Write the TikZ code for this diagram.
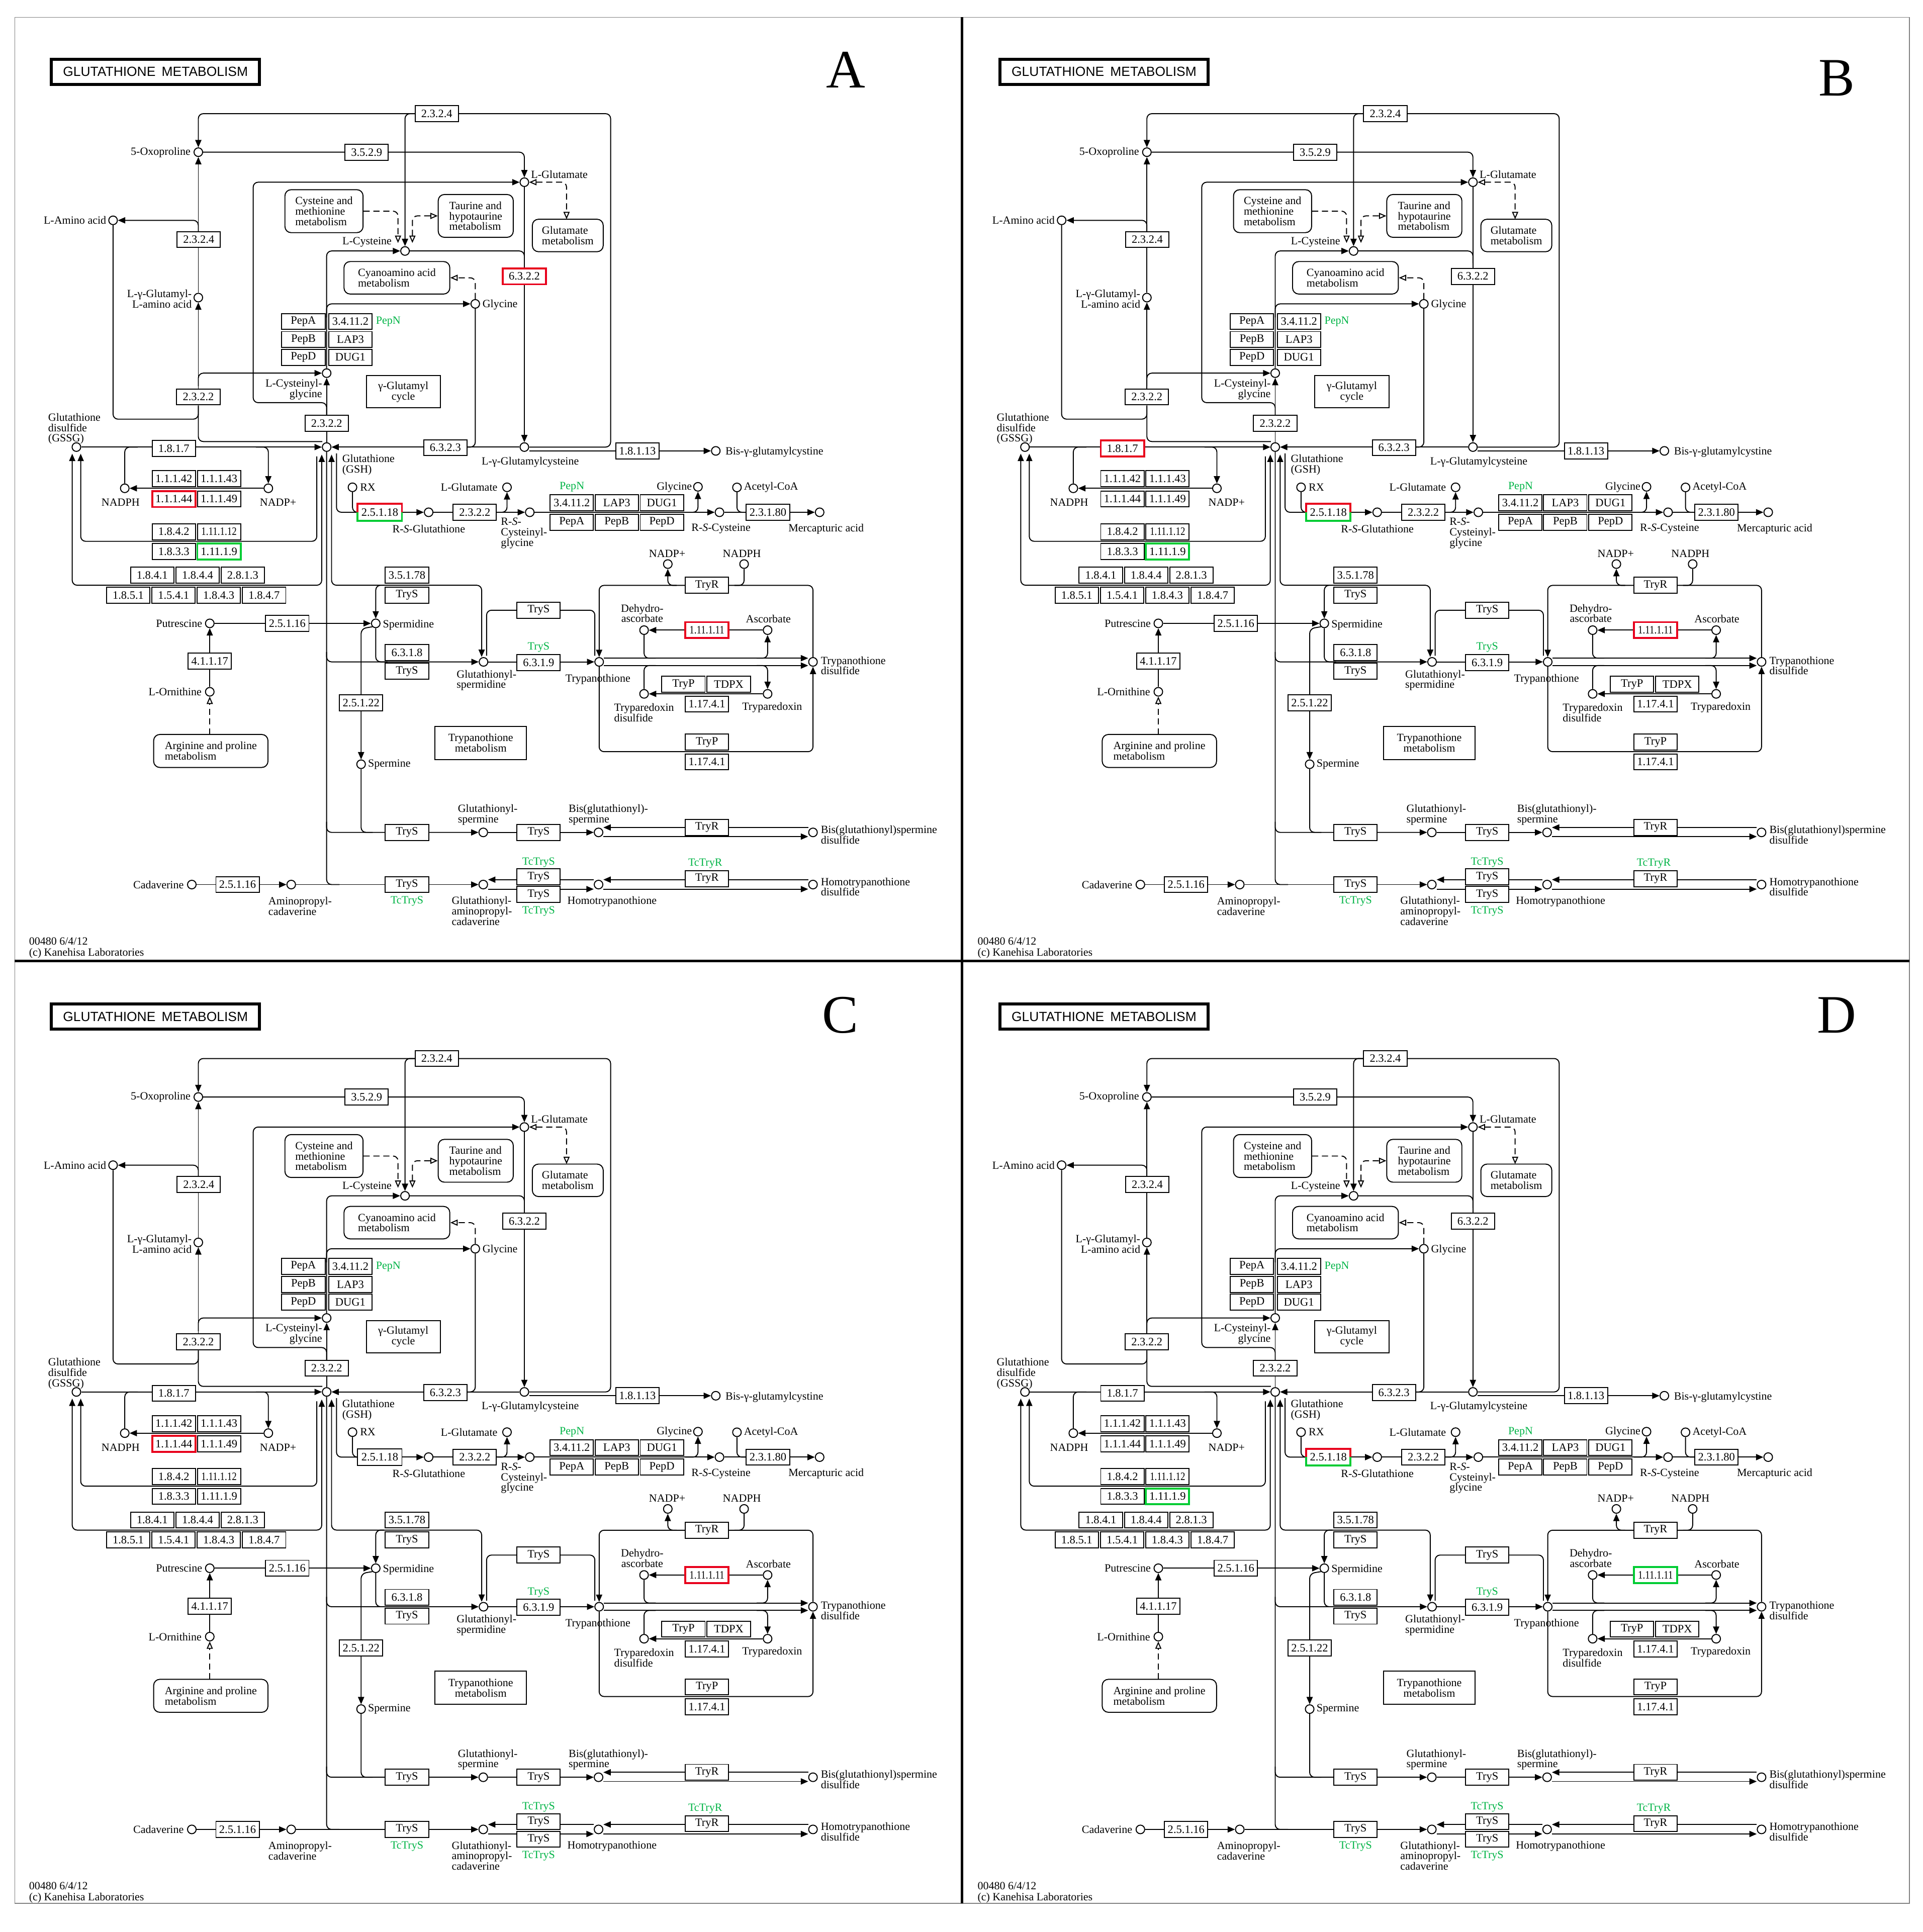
\documentclass[tikz,border=0pt]{standalone}
\usepackage{fontspec}
\usepackage{graphicx}
\setmainfont{Liberation Serif}
\newfontfamily\titlefont{Liberation Sans}
\usetikzlibrary{arrows.meta}
\pgfdeclarelayer{back}
\pgfdeclarelayer{bg}
\pgfsetlayers{back,bg,main}
\definecolor{kred}{HTML}{E8001C}
\definecolor{kgreen}{HTML}{00CC33}
\definecolor{ktxtgreen}{HTML}{00B446}
\newcommand\sq[1]{\scalebox{0.84}[1]{#1}}
\tikzset{
  cpd/.style={circle, draw, line width=0.8pt, fill=white, minimum size=7pt, inner sep=0pt},
  ec/.style={draw, line width=0.8pt, fill=white, minimum width=35.2pt, minimum height=13pt, inner sep=0pt, font=\fontsize{9.2}{9}\selectfont},
  ecR/.style={ec, draw=kred, line width=1.6pt},
  ecG/.style={ec, draw=kgreen, line width=1.6pt},
  lbl/.style={inner sep=0pt, font=\fontsize{9}{8.5}\selectfont},
  glbl/.style={lbl, text=ktxtgreen},
  mapbox/.style={draw, line width=0.8pt, rounded corners=5pt, fill=white},
  rectbox/.style={draw, line width=0.8pt, fill=white},
  ln/.style={draw, line width=0.8pt, rounded corners=4pt},
  dln/.style={ln, dash pattern=on 5pt off 3pt},
  arr/.style={-{Triangle[length=6pt,width=5pt]}},
  arrb/.style={{Triangle[length=6pt,width=5pt]}-{Triangle[length=6pt,width=5pt]}},
  oarr/.style={-{Triangle[open,length=6pt,width=5pt]}},
  oarrb/.style={{Triangle[open,length=6pt,width=5pt]}-{Triangle[open,length=6pt,width=5pt]}},
  halfR/.style={draw=kred, line width=1.6pt},
  halfG/.style={draw=kgreen, line width=1.6pt},
  halfK/.style={draw=black, line width=0.8pt},
}
\newcommand\kpanel[6]{%
\begin{scope}[shift={(#2,#3)}, name prefix=#1-]
\node[draw, line width=2.4pt, minimum width=169pt, minimum height=20.5pt, inner sep=0pt, font=\titlefont\fontsize{10.8}{11}\selectfont] (title) at (126.35,58.35) {GLUTATHIONE\hspace{5pt}METABOLISM};
\node[inner sep=0pt, anchor=base, font=\fontsize{44}{44}\selectfont] (letter) at (#5,#6) {#4};
\node[lbl, anchor=base west] (foot1) at (23.4,768) {00480 6/4/12};
\node[lbl, anchor=base west] (foot2) at (23.4,777) {(c) Kanehisa Laboratories};
% ---------- compounds
\node[cpd] (oxo) at (161.2,123.7) {};
\node[cpd] (laa) at (91.9,179.1) {};
\node[cpd] (lgla) at (161.2,241.9) {};
\node[cpd] (glu) at (426.2,148.1) {};
\node[cpd] (cys) at (329.2,204) {};
\node[cpd] (gly) at (386.3,247) {};
\node[cpd] (cysgly) at (265.5,303.3) {};
\node[cpd] (gsh) at (265.5,363.4) {};
\node[cpd] (gssg) at (62.1,363.4) {};
\node[cpd] (lgc) at (426.2,363.4) {};
\node[cpd] (bisgc) at (581.8,366.5) {};
\node[cpd] (nadphL) at (101.4,396.9) {};
\node[cpd] (nadpL) at (218.1,396.9) {};
\node[cpd] (rx) at (286.5,396.1) {};
\node[cpd] (rsg) at (348.4,416.4) {};
\node[cpd] (glu2) at (412.1,396.1) {};
\node[cpd] (rscg) at (430.6,416.4) {};
\node[cpd] (gly2) at (567.3,395.7) {};
\node[cpd] (acoa) at (599,396.2) {};
\node[cpd] (rsc) at (584.8,416.4) {};
\node[cpd] (merc) at (666.2,416.4) {};
\node[cpd] (nadpR) at (542.8,458.5) {};
\node[cpd] (nadphR) at (604.8,458.5) {};
\node[cpd] (put) at (170.5,506.7) {};
\node[cpd] (spd) at (305.4,506.7) {};
\node[cpd] (dha) at (523.5,512.2) {};
\node[cpd] (asc) at (623.9,512.2) {};
\node[cpd] (gspd) at (393,538) {};
\node[cpd] (tryp) at (487,538) {};
\node[cpd] (tsd) at (660.8,538) {};
\node[cpd] (orn) at (170.5,562.3) {};
\node[cpd] (txnd) at (523.5,564) {};
\node[cpd] (txn) at (623.9,564) {};
\node[cpd] (spm) at (293.5,621.2) {};
\node[cpd] (gspm) at (392.8,676.6) {};
\node[cpd] (bgspm) at (486.5,676.6) {};
\node[cpd] (bgspmd) at (660.8,676.6) {};
\node[cpd] (cad) at (155.9,719) {};
\node[cpd] (apc) at (236.7,719) {};
\node[cpd] (gapc) at (392.8,719) {};
\node[cpd] (htryp) at (486.5,719) {};
\node[cpd] (htsd) at (660.8,719) {};
% ---------- compound labels
\node[lbl, anchor=east] (t-oxo) at (155,123.7) {5-Oxoproline};
\node[lbl, anchor=east] (t-laa) at (86.5,179.1) {L-Amino acid};
\node[lbl, anchor=east, align=right] (t-lgla) at (156,243) {L-γ-Glutamyl-\\L-amino acid};
\node[lbl, anchor=west] (t-glu) at (431.5,141.6) {L-Glutamate};
\node[lbl, anchor=east] (t-cys) at (318.5,196.6) {L-Cysteine};
\node[lbl, anchor=west] (t-gly) at (392,247.8) {Glycine};
\node[lbl, anchor=east, align=right] (t-cysgly) at (262,316.5) {L-Cysteinyl-\\glycine};
\node[lbl, anchor=west, align=left] (t-gsh) at (278,378) {Glutathione\\(GSH)};
\node[lbl, anchor=west, align=left] (t-gssg) at (39,348.5) {Glutathione\\disulfide\\(GSSG)};
\node[lbl] (t-lgc) at (431,375.5) {L-γ-Glutamylcysteine};
\node[lbl, anchor=west] (t-bisgc) at (589.5,367.5) {Bis-γ-glutamylcystine};
\node[lbl] (t-nadphL) at (98,408.5) {NADPH};
\node[lbl] (t-nadpL) at (226,408.5) {NADP+};
\node[lbl, anchor=west] (t-rx) at (292.5,396.1) {RX};
\node[lbl] (t-rsg) at (348.5,429.8) {R-\textit{S}-Glutathione};
\node[lbl, anchor=east] (t-glu2) at (404.5,396.1) {L-Glutamate};
\node[lbl, anchor=west, align=left] (t-rscg) at (407,433.5) {R-\textit{S}-\\Cysteinyl-\\glycine};
\node[lbl, anchor=east] (t-gly2) at (562.5,395.9) {Glycine};
\node[lbl, anchor=west] (t-acoa) at (604.5,396.2) {Acetyl-CoA};
\node[lbl] (t-rsc) at (586,429.8) {R-\textit{S}-Cysteine};
\node[lbl] (t-merc) at (671.5,429.8) {Mercapturic acid};
\node[lbl] (t-nadpR) at (542.3,450) {NADP+};
\node[lbl] (t-nadphR) at (603,450) {NADPH};
\node[lbl, anchor=east] (t-put) at (164.5,506.7) {Putrescine};
\node[lbl, anchor=west] (t-spd) at (311,508) {Spermidine};
\node[lbl, align=center] (t-dha) at (522,498.5) {Dehydro-\\ascorbate};
\node[lbl] (t-asc) at (624.5,503.2) {Ascorbate};
\node[lbl, anchor=west, align=left] (t-gspd) at (371,553) {Glutathionyl-\\spermidine};
\node[lbl] (t-tryp) at (486,552) {Trypanothione};
\node[lbl, anchor=west, align=left] (t-tsd) at (667,541) {Trypanothione\\disulfide};
\node[lbl, anchor=east] (t-orn) at (164,562.3) {L-Ornithine};
\node[lbl, anchor=west, align=left] (t-txnd) at (499,579.3) {Tryparedoxin\\disulfide};
\node[lbl] (t-txn) at (627.6,575) {Tryparedoxin};
\node[lbl, anchor=west] (t-spm) at (299,621.2) {Spermine};
\node[lbl, anchor=west, align=left] (t-gspm) at (372,662.3) {Glutathionyl-\\spermine};
\node[lbl, anchor=west, align=left] (t-bgspm) at (462,662.3) {Bis(glutathionyl)-\\spermine};
\node[lbl, anchor=west, align=left] (t-bgspmd) at (667,678.5) {Bis(glutathionyl)spermine\\disulfide};
\node[lbl, anchor=east] (t-cad) at (149.5,719) {Cadaverine};
\node[lbl, anchor=west, align=left] (t-apc) at (218,736.5) {Aminopropyl-\\cadaverine};
\node[lbl, anchor=west, align=left] (t-gapc) at (367,740.4) {Glutathionyl-\\aminopropyl-\\cadaverine};
\node[lbl, anchor=west] (t-htryp) at (461,732.7) {Homotrypanothione};
\node[lbl, anchor=west, align=left] (t-htsd) at (667,720.8) {Homotrypanothione\\disulfide};
% ---------- map boxes
\node[mapbox, lbl, align=left, minimum width=63.5pt, minimum height=34.9pt] (mcys) at (263.35,171.65) {Cysteine and\\methionine\\metabolism};
\node[mapbox, lbl, align=left, minimum width=61pt, minimum height=34.8pt] (mtau) at (386.7,175.5) {Taurine and\\hypotaurine\\metabolism};
\node[mapbox, lbl, align=left, minimum width=57.6pt, minimum height=26.4pt] (mglu) at (461.5,191.4) {Glutamate\\metabolism};
\node[mapbox, lbl, align=left, minimum width=86pt, minimum height=26.4pt] (mcya) at (322.6,225.8) {Cyanoamino acid\\metabolism};
\node[mapbox, lbl, align=left, minimum width=92.9pt, minimum height=26.8pt] (marg) at (171.35,610.4) {Arginine and proline\\metabolism};
\node[rectbox, lbl, align=center, minimum width=60.2pt, minimum height=26.2pt] (gcyc) at (327.8,318.5) {γ-Glutamyl\\cycle};
\node[rectbox, lbl, align=center, minimum width=74.3pt, minimum height=26.9pt] (tmeta) at (390.75,603.85) {Trypanothione\\metabolism};
% ---------- enzymes
\node[ec] (e2324a) at (355,92.4) {2.3.2.4};
\node[ec] (e3529) at (298,123.7) {3.5.2.9};
\node[ec] (e2324b) at (161.5,194.7) {2.3.2.4};
\node[h6322] (e6322) at (426.2,224.6) {6.3.2.2};
\node[ec] (pepA1) at (246.6,261.3) {PepA};
\node[ec] (ap1) at (284.8,261.3) {3.4.11.2};
\node[glbl, anchor=west] (pepN1) at (305.4,261.5) {PepN};
\node[ec] (pepB1) at (246.6,276) {PepB};
\node[ec] (lap1) at (284.8,276) {LAP3};
\node[ec] (pepD1) at (246.6,290.4) {PepD};
\node[ec] (dug1) at (284.8,290.4) {DUG1};
\node[ec] (e2322a) at (161.2,322.6) {2.3.2.2};
\node[ec] (e2322b) at (265.5,344.1) {2.3.2.2};
\node[ec] (e6323) at (362,363.9) {6.3.2.3};
\node[ec] (e18113) at (518.1,366.5) {1.8.1.13};
\node[h1817] (e1817) at (141.3,364.5) {1.8.1.7};
\node[ec] (e11142) at (141.3,389.1) {1.1.1.42};
\node[ec] (e11143) at (178,389.1) {1.1.1.43};
\node[h11144] (e11144) at (141.3,405.6) {1.1.1.44};
\node[ec] (e11149) at (178,405.6) {1.1.1.49};
\node[ec] (e1842) at (141.3,432.2) {1.8.4.2};
\node[ec] (e111112) at (178,432.2) {\sq{1.11.1.12}};
\node[ec] (e1833) at (141.3,448.3) {1.8.3.3};
\node[h11119] (e11119) at (178,448.3) {1.11.1.9};
\node[ec] (e1841) at (123.7,467.5) {1.8.4.1};
\node[ec] (e1844) at (160.6,467.5) {1.8.4.4};
\node[ec] (e2813) at (197.3,467.5) {2.8.1.3};
\node[ec] (e1851) at (104.2,483.8) {1.8.5.1};
\node[ec] (e1541) at (141.1,483.8) {1.5.4.1};
\node[ec] (e1843) at (177.8,483.8) {1.8.4.3};
\node[ec] (e1847) at (214.7,483.8) {1.8.4.7};
\node[ec, draw=none] (e25118) at (308.7,416.4) {2.5.1.18};
\draw[h25top] (e25118.west) |- (e25118.north) -| (e25118.east);
\draw[h25bot] (e25118.west) |- (e25118.south) -| (e25118.east);
\node[ec] (e2322c) at (385.9,416.4) {2.3.2.2};
\node[ec] (ap2) at (464.75,408.65) {3.4.11.2};
\node[ec] (lap2) at (501.25,408.65) {LAP3};
\node[ec] (dug2) at (538,408.65) {DUG1};
\node[ec] (pepA2) at (464.75,424.55) {PepA};
\node[ec] (pepB2) at (501.25,424.55) {PepB};
\node[ec] (pepD2) at (538,424.55) {PepD};
\node[glbl] (pepN2) at (464.9,396) {PepN};
\node[ec] (e23180) at (624.2,416.4) {2.3.1.80};
\node[ec] (e35178) at (330.8,467.5) {3.5.1.78};
\node[ec] (tryS1) at (330.8,483.8) {TryS};
\node[ec] (e25116a) at (233.5,506.7) {2.5.1.16};
\node[ec] (e41117) at (170.5,537.5) {4.1.1.17};
\node[ec] (e6318) at (330.8,530.4) {6.3.1.8};
\node[ec] (tryS2) at (330.8,545.6) {TryS};
\node[ec] (tryS3) at (437.8,496) {TryS};
\node[ec] (e6319) at (437.8,538.5) {6.3.1.9};
\node[glbl] (gTryS) at (437.8,526.2) {TryS};
\node[ec] (tryR1) at (574.6,475.8) {TryR};
\node[h111111] (e111111) at (574.6,512.2) {\sq{1.11.1.11}};
\node[ec] (tryP1) at (555.5,556.2) {TryP};
\node[ec] (tdpx) at (592.3,556.2) {TDPX};
\node[ec] (e11741a) at (574.6,572.3) {1.17.4.1};
\node[ec] (tryP2) at (574.6,603.2) {TryP};
\node[ec] (e11741b) at (574.6,619.3) {1.17.4.1};
\node[ec] (e25122) at (293.5,571.4) {2.5.1.22};
\node[ec] (tryS4) at (330.8,676.6) {TryS};
\node[ec] (tryS5) at (437.8,676.6) {TryS};
\node[ec] (tryR2) at (574.6,672.6) {TryR};
\node[ec] (e25116b) at (193.1,719) {2.5.1.16};
\node[ec] (tryS6) at (330.8,719) {TryS};
\node[glbl] (gTcS1) at (330.8,732.7) {TcTryS};
\node[ec] (tryS7) at (437.8,712.7) {TryS};
\node[ec] (tryS8) at (437.8,727) {TryS};
\node[glbl] (gTcS2) at (437.8,701) {TcTryS};
\node[glbl] (gTcS3) at (437.8,740.6) {TcTryS};
\node[ec] (tryR3) at (574.6,714.3) {TryR};
\node[glbl] (gTcR) at (573.2,702) {TcTryR};
% ---------- connectors
\begin{pgfonlayer}{bg}
\draw[ln,arr] (lgc.east) -- (496.3,363.4) -- (496.3,92.4) -- (161.2,92.4) -- (oxo);
\draw[ln,arr] (338,92.4) -- (329.2,92.4) -- (cys);
\draw[ln,arr] (oxo) -- (426.2,123.7) -- (glu);
\draw[ln,arr] (lgla) -- (oxo);
\draw[ln,arr] (161.2,190) -- (161.2,179.1) -- (laa);
\draw[ln,arr] (e2322a) -- (lgla);
\draw[ln,arr] (161.2,314) -- (161.2,303.3) -- (cysgly);
\draw[ln] (laa) -- (91.9,340.7) -- (161.2,340.7) -- (161.2,330);
\draw[ln] (262,358.9) -- (161.2,358.9) -- (e2322a);
\draw[ln,arr] (gssg) -- (gsh);
\draw[ln] (nadphL) -- (101.4,363.4) -- (112,363.4);
\draw[ln,arr] (208,363.4) -- (218.1,363.4) -- (nadpL);
\draw[ln,arr] (nadpL) -- (nadphL);
\draw[ln,arr] (257.5,371) -- (257.5,440) -- (65.6,440) -- (65.6,368.8);
\draw[ln,arrb] (58.7,368.8) -- (58.7,475.7) -- (261.5,475.7) -- (261.5,369.5);
\draw[ln,arrb] (269.5,369.5) -- (269.5,475.7) -- (391.5,475.7) -- (391.5,534);
\draw[ln,arr] (312,475.7) -- (305.4,475.7) -- (spd);
\draw[ln] (273.5,368.5) -- (273.5,416.4) -- (e25118);
\draw[ln] (rx) -- (286.5,416.4) -- (e25118);
\draw[ln,arr] (e25118) -- (rsg);
\draw[ln,arr] (rsg) -- (rscg);
\draw[ln,arr] (404,416.4) -- (412.1,416.4) -- (glu2);
\draw[ln,arr] (rscg) -- (rsc);
\draw[ln,arr] (557,416.4) -- (567.3,416.4) -- (gly2);
\draw[ln,arr] (rsc) -- (merc);
\draw[ln] (acoa) -- (599,416.4) -- (e23180);
\draw[ln,arr] (lgc) -- (gsh);
\draw[ln] (gly) -- (386.3,363.4) -- (378,363.4);
\draw[ln,arr] (glu) -- (lgc);
\draw[ln] (cys) -- (426.2,204) -- (426.2,214);
\draw[ln,arr] ([yshift=-3.1pt]lgc.east) -- (bisgc);
\draw[ln,arr] (e2322b) -- (cysgly);
\draw[ln,arr] (265.5,337.6) -- (265.5,327.3) -- (205.8,327.3) -- (205.8,148.1) -- (glu);
\draw[ln] (gsh) -- (e2322b);
\draw[ln,arr] (cysgly) -- (265.5,204) -- (cys);
\draw[ln,arr] (265.5,258) -- (265.5,247) -- (gly);
\draw[dln,oarr] (mcys.east) -- (323.5,171.65) -- (323.5,197.5);
\draw[dln,oarrb] (335.2,197.5) -- (335.2,175.5) -- (mtau);
\draw[dln,oarrb] (glu) -- (460.5,148.1) -- (460.5,178.2);
\draw[dln,oarr] (gly) -- (386.3,225.8) -- (mcya);
\draw[dln,oarr] (170.5,597) -- (orn);
\draw[ln,arr] (put) -- (spd);
\draw[ln,arr] (orn) -- (put);
\draw[ln,arr] (spd.south west) -- (293.5,511) -- (spm);
\draw[ln] (spd) -- (305.4,538) -- (315,538);
\draw[ln] (gsh) -- (265.5,719) -- (276,719);
\draw[ln,arr] (265.5,530) -- (265.5,538) -- (gspd);
\draw[ln,arr] (265.5,668) -- (265.5,676.6) -- (gspm);
\draw[ln] (spm) -- (293.5,676.6) -- (303,676.6);
\draw[ln,arr] (apc) -- (gapc);
\draw[ln,arr] (cad) -- (apc);
\draw[ln,arr] (gspd) -- (tryp);
\draw[ln] (395.5,533) -- (395.5,496) -- (483.5,496) -- (483.5,533);
\draw[ln,arr] (tsd) -- (660.8,475.8) -- (487,475.8) -- (tryp);
\draw[ln,arr] (550,475.8) -- (542.8,475.8) -- (nadpR);
\draw[ln] (nadphR) -- (604.8,475.8) -- (597,475.8);
\draw[ln,arr] ([yshift=3pt]tryp.east) -- ([yshift=3pt]tsd.west);
\draw[ln,arr] ([yshift=-3pt]tryp.east) -- ([yshift=-3pt]tsd.west);
\draw[ln] (dha) -- (523.5,535) -- (533,535);
\draw[ln,arr] (615,535) -- (623.9,535) -- (asc);
\draw[ln,arr] (asc) -- (dha);
\draw[ln] (txnd) -- (523.5,541) -- (533,541);
\draw[ln,arr] (615,541) -- (623.9,541) -- (txn);
\draw[ln,arr] (txn) -- (txnd);
\draw[ln,arr] (tryp) -- (487,611) -- (660.8,611) -- (tsd);
\draw[ln,arr] (gspm) -- (bgspm);
\draw[ln,arr] ([yshift=-3.4pt]bgspm.east) -- ([yshift=-3.4pt]bgspmd.west);
\draw[ln,arr] ([yshift=4pt]bgspmd.west) -- ([yshift=4pt]bgspm.east);
\draw[ln,arr] ([yshift=4pt]htryp.west) -- ([yshift=4pt]gapc.east);
\draw[ln,arr] ([yshift=-3.7pt]gapc.east) -- ([yshift=-3.7pt]htryp.west);
\draw[ln,arr] ([yshift=4pt]htsd.west) -- ([yshift=4pt]htryp.east);
\draw[ln,arr] ([yshift=-3.7pt]htryp.east) -- ([yshift=-3.7pt]htsd.west);
\end{pgfonlayer}
\end{scope}}
\begin{document}
\begin{tikzpicture}[x=1pt,y=-1pt]
\useasboundingbox (0,0) rectangle (1563,1570.4);
\begin{pgfonlayer}{back}
\fill[white] (0,0) rectangle (1563,1570.4);
\end{pgfonlayer}
% Panel A
\tikzset{h6322/.style={ecR}, h1817/.style={ec}, h11144/.style={ecR}, h11119/.style={ecG}, h25top/.style={halfR}, h25bot/.style={halfG}, h111111/.style={ecR}}
\kpanel{A}{0}{0}{A}{687.4}{71.5}
% Panel B
\tikzset{h6322/.style={ec}, h1817/.style={ecR}, h11144/.style={ec}, h11119/.style={ecG}, h25top/.style={halfR}, h25bot/.style={halfG}, h111111/.style={ecR}}
\kpanel{B}{771}{0}{B}{722}{78}
% Panel C
\tikzset{h6322/.style={ec}, h1817/.style={ec}, h11144/.style={ecR}, h11119/.style={ec}, h25top/.style={halfK}, h25bot/.style={halfK}, h111111/.style={ecR}}
\kpanel{C}{0}{768}{C}{683}{71.5}
% Panel D
\tikzset{h6322/.style={ec}, h1817/.style={ec}, h11144/.style={ec}, h11119/.style={ecG}, h25top/.style={halfR}, h25bot/.style={halfG}, h111111/.style={ecG}}
\kpanel{D}{771}{768}{D}{722}{71.5}
% frame
\draw[line width=0.6pt, gray] (12,14) rectangle (1552,1547);
\draw[line width=2pt] (782,14) -- (782,1547);
\draw[line width=2pt] (12,781) -- (1552,781);
\end{tikzpicture}
\end{document}
